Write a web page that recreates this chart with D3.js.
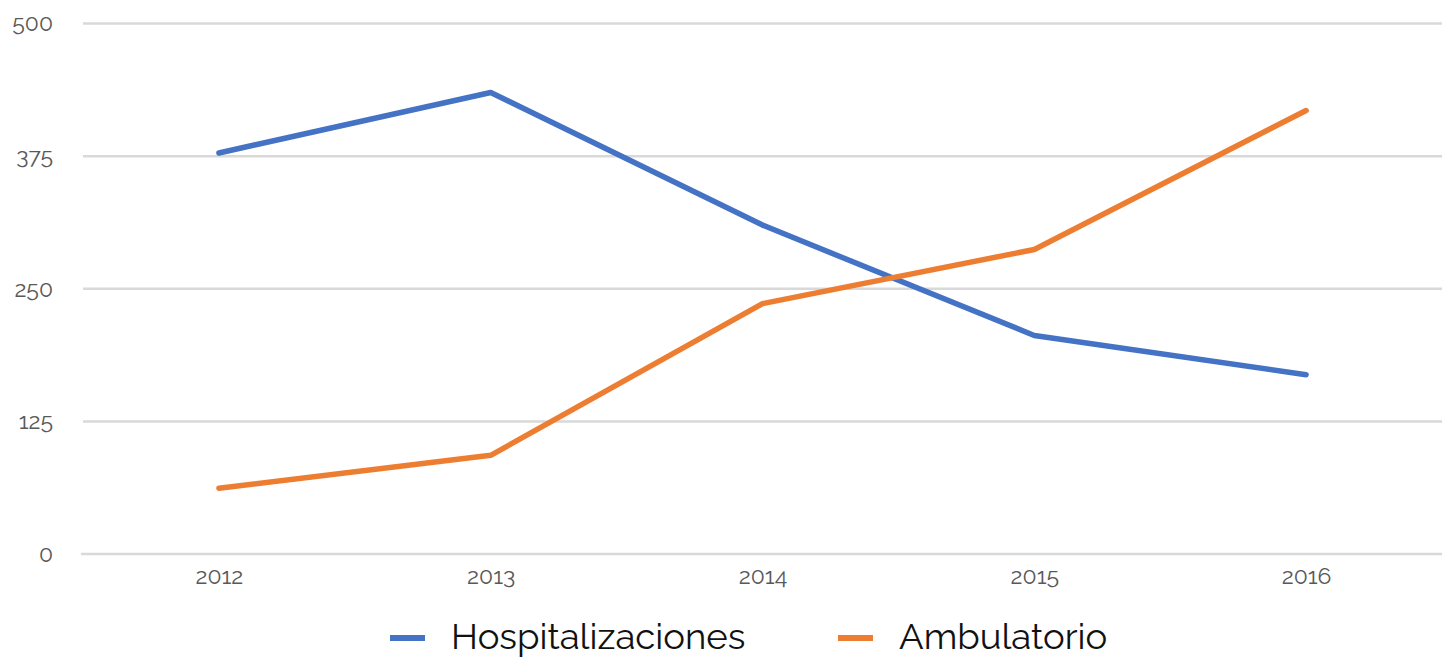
<!DOCTYPE html>
<html>
<head>
<meta charset="utf-8">
<script src="https://cdn.jsdelivr.net/npm/d3@7"></script>
<style>
  body { margin: 0; background: #fff; overflow: hidden; }
  text { font-family: Raleway, Lato, "Open Sans", sans-serif; }
</style>
</head>
<body>
<div id="chart"></div>
<script>
// data
var years = ["2012", "2013", "2014", "2015", "2016"];
var hospitalizaciones = [378, 435, 310, 206, 169];
var ambulatorio = [62, 93, 236, 287, 418];
var yTicks = [0, 125, 250, 375, 500];

var seriesNames = ["Hospitalizaciones", "Ambulatorio"];
var colors = ["#4472c4", "#ed7d31"];

var W = 1442, H = 657;
var margin = {top: 23.5, right: 0, bottom: 103, left: 83};
var width = W - margin.left - margin.right;
var height = H - margin.top - margin.bottom;

var svg = d3.select("#chart")
  .append("svg")
    .attr("width", W)
    .attr("height", H);

var g = svg.append("g")
  .attr("transform", "translate(" + margin.left + "," + margin.top + ")");

var x = d3.scalePoint()
  .domain(years)
  .range([0, width])
  .padding(0.5);

var y = d3.scaleLinear()
  .domain([0, 500])
  .range([height, 0]);

// gridlines
g.append("g")
  .selectAll("line")
  .data(yTicks)
  .enter()
  .append("line")
    .attr("x1", function(d){ return d == 0 ? -2 : 0; })
    .attr("x2", width)
    .attr("y1", function(d){ return y(d); })
    .attr("y2", function(d){ return y(d); })
    .attr("stroke", "#d9d9d9")
    .attr("stroke-width", 2.5);

// y labels
var yAxis = g.append("g")
  .call(d3.axisLeft(y).tickValues(yTicks).tickSize(0).tickPadding(30));
yAxis.select(".domain").remove();
yAxis.selectAll("text")
  .attr("fill", "#595959")
  .style("font-size", "23px");

// x labels
var xAxis = g.append("g")
  .attr("transform", "translate(0," + height + ")")
  .call(d3.axisBottom(x).tickSize(0).tickPadding(14));
xAxis.select(".domain").remove();
xAxis.selectAll("text")
  .attr("fill", "#595959")
  .style("font-size", "23px");

// lines
var line = d3.line()
  .x(function(d, i){ return x(years[i]); })
  .y(function(d){ return y(d); });

[hospitalizaciones, ambulatorio].forEach(function(vals, i){
  g.append("path")
    .datum(vals)
    .attr("d", line)
    .attr("fill", "none")
    .attr("stroke", colors[i])
    .attr("stroke-width", 5.5)
    .attr("stroke-linecap", "round")
    .attr("stroke-linejoin", "round");
});

// legend
var legendX = [390, 838];
var legend = svg.append("g");
seriesNames.forEach(function(name, i){
  legend.append("line")
    .attr("x1", legendX[i])
    .attr("x2", legendX[i] + 35)
    .attr("y1", 638)
    .attr("y2", 638)
    .attr("stroke", colors[i])
    .attr("stroke-width", 6);
  legend.append("text")
    .attr("x", legendX[i] + 61)
    .attr("y", 649)
    .attr("fill", "#111")
    .style("font-size", "36.5px")
    .style("font-weight", 400)
    .text(name);
});
</script>
</body>
</html>
